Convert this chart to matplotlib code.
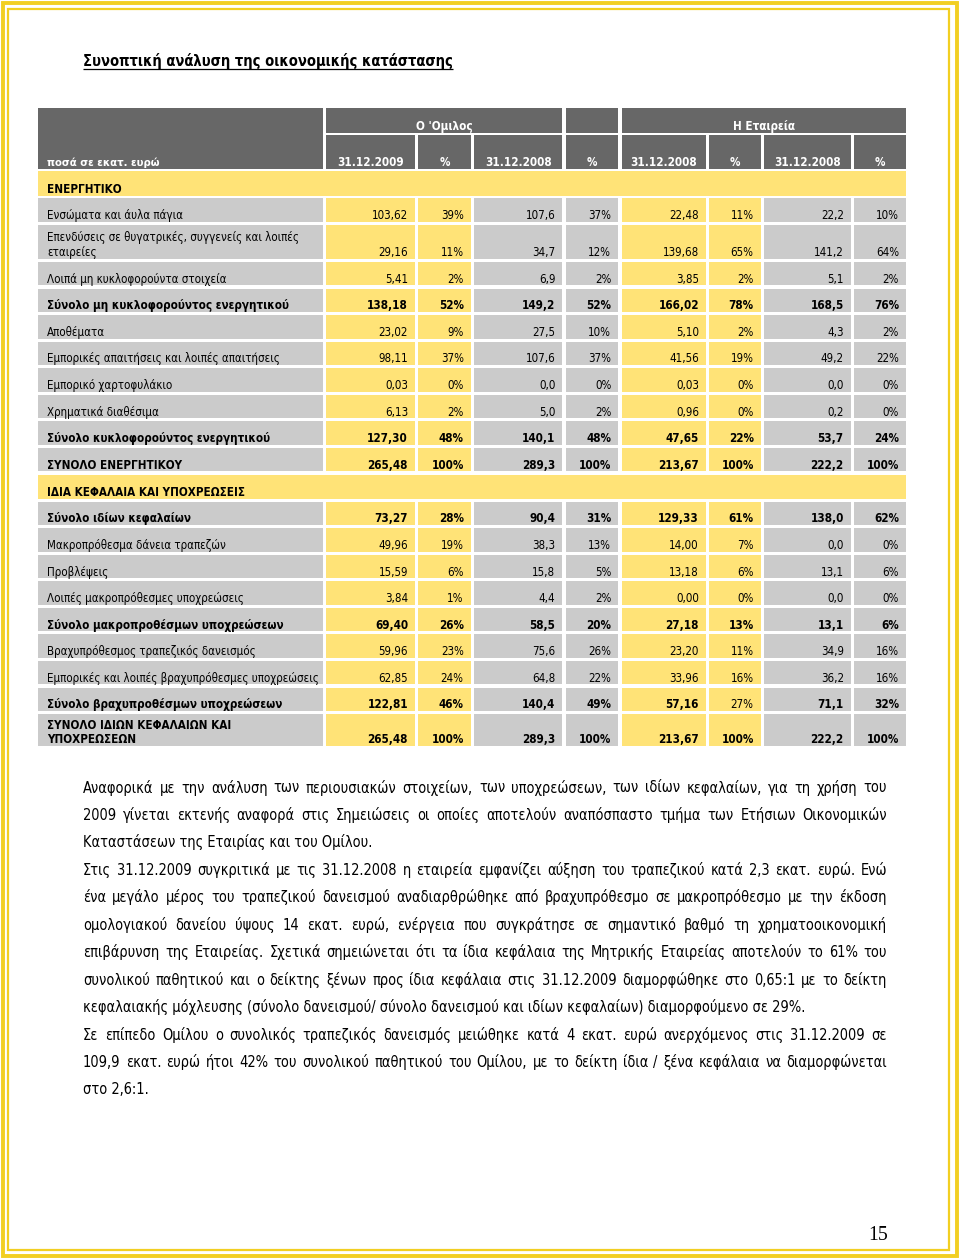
import os
import matplotlib
matplotlib.use('Agg')
import matplotlib.pyplot as plt
from matplotlib.patches import Rectangle
from matplotlib import font_manager as fm
from matplotlib.font_manager import FontProperties

# ---------------- data ----------------
title = "Συνοπτική ανάλυση της οικονομικής κατάστασης"
unit_label = "ποσά σε εκατ. ευρώ"
group_labels = ["Ο 'Ομιλος", "Η Εταιρεία"]
col_headers = ["31.12.2009", "%", "31.12.2008", "%", "31.12.2008", "%", "31.12.2008", "%"]
section_assets = "ΕΝΕΡΓΗΤΙΚΟ"
section_equity = "ΙΔΙΑ ΚΕΦΑΛΑΙΑ ΚΑΙ ΥΠΟΧΡΕΩΣΕΙΣ"

asset_labels = [
    "Ενσώματα και άυλα πάγια",
    "Επενδύσεις σε θυγατρικές, συγγενείς και λοιπές\nεταιρείες",
    "Λοιπά μη κυκλοφορούντα στοιχεία",
    "Σύνολο μη κυκλοφορούντος ενεργητικού",
    "Αποθέματα",
    "Εμπορικές απαιτήσεις και λοιπές απαιτήσεις",
    "Εμπορικό χαρτοφυλάκιο",
    "Χρηματικά διαθέσιμα",
    "Σύνολο κυκλοφορούντος ενεργητικού",
    "ΣΥΝΟΛΟ ΕΝΕΡΓΗΤΙΚΟΥ",
]
asset_group_2009 = [103.62, 29.16, 5.41, 138.18, 23.02, 98.11, 0.03, 6.13, 127.30, 265.48]
asset_group_2009_pct = [39, 11, 2, 52, 9, 37, 0, 2, 48, 100]
asset_group_2008 = [107.6, 34.7, 6.9, 149.2, 27.5, 107.6, 0.0, 5.0, 140.1, 289.3]
asset_group_2008_pct = [37, 12, 2, 52, 10, 37, 0, 2, 48, 100]
asset_company_2009 = [22.48, 139.68, 3.85, 166.02, 5.10, 41.56, 0.03, 0.96, 47.65, 213.67]
asset_company_2009_pct = [11, 65, 2, 78, 2, 19, 0, 0, 22, 100]
asset_company_2008 = [22.2, 141.2, 5.1, 168.5, 4.3, 49.2, 0.0, 0.2, 53.7, 222.2]
asset_company_2008_pct = [10, 64, 2, 76, 2, 22, 0, 0, 24, 100]
asset_bold = [False, False, False, True, False, False, False, False, True, True]

liab_labels = [
    "Σύνολο ιδίων κεφαλαίων",
    "Μακροπρόθεσμα δάνεια τραπεζών",
    "Προβλέψεις",
    "Λοιπές μακροπρόθεσμες υποχρεώσεις",
    "Σύνολο μακροπροθέσμων υποχρεώσεων",
    "Βραχυπρόθεσμος τραπεζικός δανεισμός",
    "Εμπορικές και λοιπές βραχυπρόθεσμες υποχρεώσεις",
    "Σύνολο βραχυπροθέσμων υποχρεώσεων",
    "ΣΥΝΟΛΟ ΙΔΙΩΝ ΚΕΦΑΛΑΙΩΝ ΚΑΙ\nΥΠΟΧΡΕΩΣΕΩΝ",
]
liab_group_2009 = [73.27, 49.96, 15.59, 3.84, 69.40, 59.96, 62.85, 122.81, 265.48]
liab_group_2009_pct = [28, 19, 6, 1, 26, 23, 24, 46, 100]
liab_group_2008 = [90.4, 38.3, 15.8, 4.4, 58.5, 75.6, 64.8, 140.4, 289.3]
liab_group_2008_pct = [31, 13, 5, 2, 20, 26, 22, 49, 100]
liab_company_2009 = [129.33, 14.00, 13.18, 0.00, 27.18, 23.20, 33.96, 57.16, 213.67]
liab_company_2009_pct = [61, 7, 6, 0, 13, 11, 16, 27, 100]
liab_company_2008 = [138.0, 0.0, 13.1, 0.0, 13.1, 34.9, 36.2, 71.1, 222.2]
liab_company_2008_pct = [62, 0, 6, 0, 6, 16, 16, 32, 100]
liab_bold = [True, False, False, False, True, False, False, True, True]
# (row index, column index) cells printed in regular weight inside bold rows
liab_regular_cells = [(7, 5)]

paragraphs = [
    ["Αναφορικά με την ανάλυση των περιουσιακών στοιχείων, των υποχρεώσεων, των ιδίων κεφαλαίων, για τη χρήση του",
     "2009 γίνεται εκτενής αναφορά στις Σημειώσεις οι οποίες αποτελούν αναπόσπαστο τμήμα των Ετήσιων Οικονομικών",
     "Καταστάσεων της Εταιρίας και του Ομίλου."],
    ["Στις 31.12.2009 συγκριτικά με τις 31.12.2008 η εταιρεία εμφανίζει αύξηση του τραπεζικού κατά 2,3 εκατ. ευρώ. Ενώ",
     "ένα μεγάλο μέρος του τραπεζικού δανεισμού αναδιαρθρώθηκε από βραχυπρόθεσμο σε μακροπρόθεσμο με την έκδοση",
     "ομολογιακού δανείου ύψους 14 εκατ. ευρώ, ενέργεια που συγκράτησε σε σημαντικό βαθμό τη χρηματοοικονομική",
     "επιβάρυνση της Εταιρείας. Σχετικά σημειώνεται ότι τα ίδια κεφάλαια της Μητρικής Εταιρείας αποτελούν το 61% του",
     "συνολικού παθητικού και ο δείκτης ξένων προς ίδια κεφάλαια στις 31.12.2009 διαμορφώθηκε στο 0,65:1 με το δείκτη",
     "κεφαλαιακής μόχλευσης (σύνολο δανεισμού/ σύνολο δανεισμού και ιδίων κεφαλαίων) διαμορφούμενο σε 29%."],
    ["Σε επίπεδο Ομίλου ο συνολικός τραπεζικός δανεισμός μειώθηκε κατά 4 εκατ. ευρώ ανερχόμενος στις 31.12.2009 σε",
     "109,9 εκατ. ευρώ ήτοι 42% του συνολικού παθητικού του Ομίλου, με το δείκτη ίδια / ξένα κεφάλαια να διαμορφώνεται",
     "στο 2,6:1."],
]
page_number = "15"

# ---------------- fonts ----------------
def find_font(names):
    for f in fm.fontManager.ttflist:
        if os.path.basename(f.fname) in names:
            return f.fname
    return None

_reg = find_font({'DejaVuSansCondensed.ttf'})
_bld = find_font({'DejaVuSansCondensed-Bold.ttf'})
if _reg and _bld:
    FP_REG = FontProperties(fname=_reg)
    FP_BOLD = FontProperties(fname=_bld)
else:
    FP_REG = FontProperties(family='Noto Sans')
    FP_BOLD = FontProperties(family='Noto Sans', weight='bold')
FP_SERIF = FontProperties(family='Liberation Serif')

# ---------------- figure ----------------
W, H = 960, 1258
fig = plt.figure(figsize=(W / 100, H / 100), dpi=100)
fig.patch.set_facecolor('white')
ax = fig.add_axes([0, 0, 1, 1])
ax.set_xlim(0, W)
ax.set_ylim(H, 0)
ax.axis('off')
renderer = fig.canvas.get_renderer()


def sized(fp, size):
    p = fp.copy()
    p.set_size(size)
    return p


def text_w(s, fp):
    w, h, d = renderer.get_text_width_height_descent(s, fp, ismath=False)
    return w


def fit_size(fp, sample, target_px):
    return 10 * target_px / text_w(sample, sized(fp, 10))


reg_size = fit_size(FP_REG, "Ενσώματα και άυλα πάγια", 131) * 1.04
bold_size = fit_size(FP_BOLD, "Σύνολο μη κυκλοφορούντος ενεργητικού", 241)
unit_size = fit_size(FP_BOLD, unit_label, 113)
para_size = fit_size(FP_REG, "Καταστάσεων της Εταιρίας και του Ομίλου.", 290)
title_size = fit_size(FP_BOLD, title, 370)
F_REG = sized(FP_REG, reg_size)
F_BOLD = sized(FP_BOLD, bold_size)
F_UNIT = sized(FP_BOLD, unit_size)
F_PARA = sized(FP_REG, para_size)
F_TITLE = sized(FP_BOLD, title_size)
F_SERIF = sized(FP_SERIF, 14.2)

YELLOW = '#ffe377'
GRAY = '#cbcbcb'
DARK = '#676767'
BORDER = '#f2cf22'

# ---------------- page border ----------------
ax.add_patch(Rectangle((3, 3), 953.5, 1252.5, fill=False, ec=BORDER, lw=2.8))
ax.add_patch(Rectangle((8, 9.2), 940.5, 1240.3, fill=False, ec=BORDER, lw=1.6))

# ---------------- title ----------------
tx = 83
ax.text(tx, 66.0, title, fontproperties=F_TITLE, va='baseline', ha='left', color='black')
ax.plot([tx, tx + text_w(title, F_TITLE)], [68.8, 68.8], color='black', lw=0.9, solid_capstyle='butt')

# ---------------- table geometry ----------------
TL, TR = 38.3, 906
cols = [(325.7, 415), (418.3, 470.7), (474, 562.3), (565.6, 618.3),
        (621.7, 706), (709.3, 760.7), (764, 850.7), (854, 906)]
LABEL = (TL, 322.7)
PAD = 7
LX = 47


def rect(x0, x1, y0, y1, color):
    ax.add_patch(Rectangle((x0, y0), x1 - x0, y1 - y0, fc=color, ec='none', lw=0))


# header
h1 = (108.3, 132.7)
h2 = (135.0, 169.3)
rect(LABEL[0], LABEL[1], h1[0], h2[1], DARK)
rect(cols[0][0], cols[2][1], h1[0], h1[1], DARK)
rect(cols[3][0], cols[3][1], h1[0], h1[1], DARK)
rect(cols[4][0], cols[7][1], h1[0], h1[1], DARK)
for c in cols:
    rect(c[0], c[1], h2[0], h2[1], DARK)
ax.text(LX, h2[1] - 3.6, unit_label, fontproperties=F_UNIT, color='white', va='baseline', ha='left')
ax.text((cols[0][0] + cols[2][1]) / 2, h1[1] - 2.4, group_labels[0], fontproperties=F_BOLD,
        color='white', va='baseline', ha='center')
ax.text((cols[4][0] + cols[7][1]) / 2, h1[1] - 2.4, group_labels[1], fontproperties=F_BOLD,
        color='white', va='baseline', ha='center')
for c, t in zip(cols, col_headers):
    ax.text((c[0] + c[1]) / 2, h2[1] - 2.8, t, fontproperties=F_BOLD, color='white',
            va='baseline', ha='center')

col_colors = [YELLOW, YELLOW, GRAY, GRAY, YELLOW, YELLOW, GRAY, GRAY]


def fmt(v, dec):
    return f"{v:.{dec}f}".replace('.', ',')


def section(y0, y1, label):
    rect(TL, TR, y0, y1, YELLOW)
    ax.text(LX, y1 - 2.4, label, fontproperties=F_BOLD, color='black', va='baseline', ha='left')


def data_rows(y, labels, vals, bolds, regular_cells=()):
    ROW_H, GAP = 23.3, 3.25
    for i, lab in enumerate(labels):
        two = '\n' in lab
        hgt = ROW_H if not two else (34.0 if i < len(labels) - 1 else 32.3)
        y0, y1 = y, y + hgt
        rect(LABEL[0], LABEL[1], y0, y1, GRAY)
        for c, colr in zip(cols, col_colors):
            rect(c[0], c[1], y0, y1, colr)
        fp = F_BOLD if bolds[i] else F_REG
        base = y1 - (2.6 if not two else 3.0)
        lines = lab.split('\n')
        for k, ln in enumerate(lines):
            ax.text(LX, base - (len(lines) - 1 - k) * 14.6, ln, fontproperties=fp,
                    color='black', va='baseline', ha='left')
        cells = [fmt(vals[0][i], 2), f"{vals[1][i]}%", fmt(vals[2][i], 1), f"{vals[3][i]}%",
                 fmt(vals[4][i], 2), f"{vals[5][i]}%", fmt(vals[6][i], 1), f"{vals[7][i]}%"]
        for j, (c, s) in enumerate(zip(cols, cells)):
            cfp = fp if (i, j) not in regular_cells else F_REG
            ax.text(c[1] - PAD, base, s, fontproperties=cfp, color='black',
                    va='baseline', ha='right')
        y = y1 + GAP
    return y


section(171.0, 195.7, section_assets)
y = data_rows(198.3, asset_labels,
              [asset_group_2009, asset_group_2009_pct, asset_group_2008, asset_group_2008_pct,
               asset_company_2009, asset_company_2009_pct, asset_company_2008, asset_company_2008_pct],
              asset_bold)
section(y, y + 24.0, section_equity)
y = data_rows(y + 24.0 + 3.25, liab_labels,
              [liab_group_2009, liab_group_2009_pct, liab_group_2008, liab_group_2008_pct,
               liab_company_2009, liab_company_2009_pct, liab_company_2008, liab_company_2008_pct],
              liab_bold, liab_regular_cells)

# ---------------- paragraphs (justified) ----------------
PX0, PX1 = 83, 887
LINE = 27.45
yb = 792.5
for para in paragraphs:
    for k, line in enumerate(para):
        last = (k == len(para) - 1)
        if last:
            ax.text(PX0, yb, line, fontproperties=F_PARA, color='black', va='baseline', ha='left')
        else:
            words = line.split(' ')
            widths = [text_w(wd, F_PARA) for wd in words]
            gap = (PX1 - PX0 - sum(widths)) / (len(words) - 1)
            x = PX0
            for n, (wd, ww) in enumerate(zip(words, widths)):
                if n == len(words) - 1:
                    ax.text(PX1, yb, wd, fontproperties=F_PARA, color='black', va='baseline', ha='right')
                else:
                    ax.text(x, yb, wd, fontproperties=F_PARA, color='black', va='baseline', ha='left')
                x += ww + gap
        yb += LINE

# ---------------- page number ----------------
ax.text(888, 1240, page_number, fontproperties=F_SERIF, color='black', va='baseline', ha='right')

fig.savefig('out.png', dpi=100, facecolor='white')
